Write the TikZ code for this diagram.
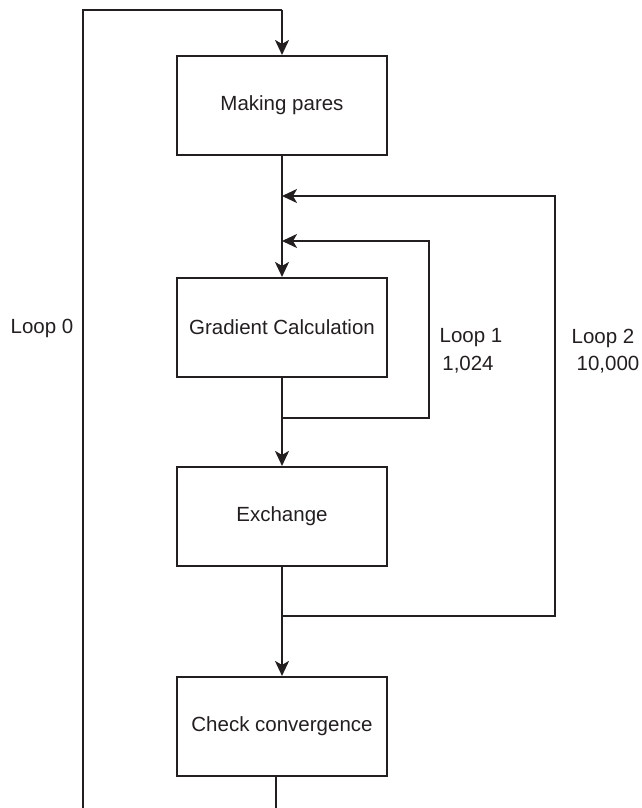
\documentclass[tikz,border=0pt]{standalone}
\usepackage{fontspec}
\setmainfont{Liberation Sans}
\usetikzlibrary{arrows.meta}
\definecolor{ink}{HTML}{231F20}
\tikzset{
  stepbox/.style={draw=ink, line width=2.1pt, minimum width=210pt, minimum height=99pt,
    inner sep=0pt, text=ink, font=\fontsize{20.5}{24}\selectfont},
  link/.style={draw=ink, line width=2.1pt},
  flow/.style={link, -{Stealth[length=15pt, width=14pt, inset=4pt]}},
  lbl/.style={text=ink, inner sep=0pt, font=\fontsize{20.5}{24}\selectfont}
}
\begin{document}
\begin{tikzpicture}[x=1pt, y=-1pt]
  \useasboundingbox (0,0) rectangle (641,808);

  % process steps
  \node[stepbox] (mp) at (282,105.5) {Making pares};
  \node[stepbox] (gc) at (282,327.5) {Gradient Calculation};
  \node[stepbox] (ex) at (282,516.5) {Exchange};
  \node[stepbox] (cc) at (282,726.5) {Check convergence};

  % main flow
  \draw[flow] (mp.south) -- (gc.north);
  \draw[flow] (gc.south) -- (ex.north);
  \draw[flow] (ex.south) -- (cc.north);

  % loop 0 (outer)
  \coordinate (l0bl) at (83,808);
  \coordinate (l0tl) at (83,10);
  \coordinate (l0tr) at (282,10);
  \coordinate (l0out) at (276,776);
  \coordinate (l0end) at (276,808);
  \draw[link] (l0bl) -- (l0tl) -- (l0tr);
  \draw[flow] (l0tr) -- (mp.north);
  \draw[link] (l0out) -- (l0end);

  % loop 1
  \coordinate (l1a) at (282,418);
  \coordinate (l1b) at (429,418);
  \coordinate (l1c) at (429,241);
  \coordinate (l1d) at (282,241);
  \draw[flow] (l1a) -- (l1b) -- (l1c) -- (l1d);

  % loop 2
  \coordinate (l2a) at (282,616);
  \coordinate (l2b) at (555,616);
  \coordinate (l2c) at (555,196);
  \coordinate (l2d) at (282,196);
  \draw[flow] (l2a) -- (l2b) -- (l2c) -- (l2d);

  % loop labels
  \node[lbl] (t0) at (42,328) {Loop 0};
  \node[lbl] (t1) at (471,338) {Loop 1};
  \node[lbl] (n1) at (468,365) {1,024};
  \node[lbl] (t2) at (603,338) {Loop 2};
  \node[lbl] (n2) at (608,365) {10,000};
\end{tikzpicture}
\end{document}
